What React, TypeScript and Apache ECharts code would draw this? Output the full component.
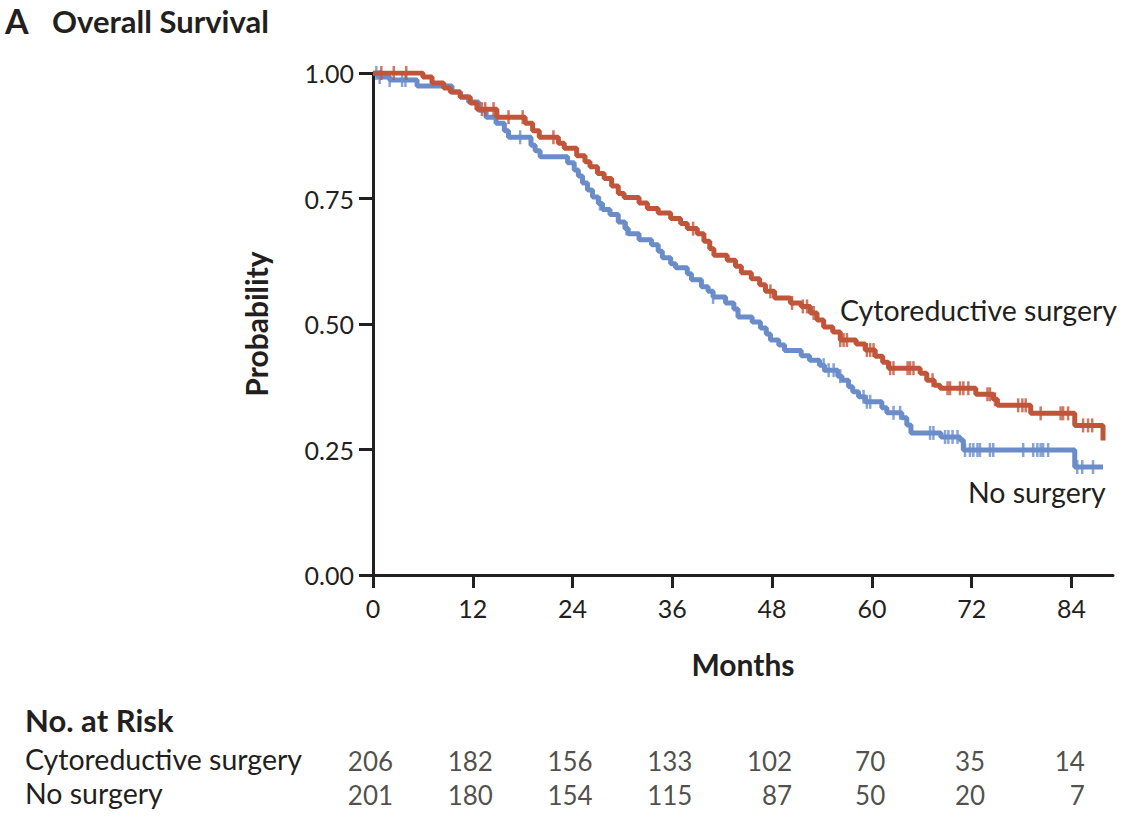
import React, { useEffect, useRef } from "react";
import * as echarts from "echarts";

const monthTicks = [0, 12, 24, 36, 48, 60, 72, 84];
const groupNames = ["Cytoreductive surgery", "No surgery"];
const riskSurgery = [206, 182, 156, 133, 102, 70, 35, 14];
const riskNoSurgery = [201, 180, 154, 115, 87, 50, 20, 7];

// Kaplan-Meier steps: [month, survival after the event]
const surgeryCurve = [
  [0, 1.0], [6.0, 0.992], [7.1, 0.98], [8.5, 0.97], [9.3, 0.962], [10.5, 0.952], [11.7, 0.94],
  [12.5, 0.928], [14.9, 0.912], [18.3, 0.9], [19.2, 0.885], [20, 0.872], [22.3, 0.86], [23, 0.85],
  [24.5, 0.835], [25.5, 0.823], [26.1, 0.813], [27, 0.8], [27.8, 0.79], [28.7, 0.775], [29.5, 0.76],
  [30.2, 0.752], [32, 0.741], [33, 0.73], [34.3, 0.721], [35.8, 0.71], [37, 0.7], [37.8, 0.69],
  [39, 0.68], [39.8, 0.665], [40.5, 0.65], [41, 0.637], [42.6, 0.627], [43.6, 0.615], [44.3, 0.602],
  [45.5, 0.59], [46.5, 0.578], [47.2, 0.565], [48.3, 0.552], [50.2, 0.542], [51.5, 0.535],
  [52.6, 0.522], [53.4, 0.508], [54.2, 0.494], [55.3, 0.484], [56.2, 0.468], [58.1, 0.46],
  [59.2, 0.448], [60.4, 0.436], [61.3, 0.424], [62, 0.412], [65.8, 0.402], [66.6, 0.388],
  [67.5, 0.378], [68.2, 0.372], [72.5, 0.36], [74.6, 0.35], [75.1, 0.338], [79.1, 0.322],
  [84.4, 0.298], [87.8, 0.268],
];
const noSurgeryCurve = [
  [0, 1.0], [0.6, 0.992], [2, 0.986], [5.3, 0.974], [9.5, 0.962], [10.5, 0.952], [11.5, 0.942],
  [12.7, 0.926], [13.6, 0.912], [14.8, 0.9], [15.8, 0.885], [16.3, 0.872], [19.0, 0.856],
  [19.5, 0.845], [20.1, 0.833], [23.4, 0.821], [24.2, 0.807], [24.7, 0.795], [25.2, 0.781],
  [25.8, 0.767], [26.4, 0.753], [27.1, 0.74], [27.6, 0.728], [28.5, 0.718], [29.5, 0.703],
  [30.3, 0.69], [30.7, 0.68], [32, 0.668], [33.5, 0.658], [34.3, 0.645], [34.8, 0.632],
  [35.8, 0.62], [36.4, 0.612], [37.8, 0.6], [38.3, 0.588], [39.5, 0.574], [40.3, 0.565],
  [40.9, 0.554], [42.4, 0.542], [43.4, 0.53], [43.9, 0.514], [45.6, 0.504], [46.6, 0.492],
  [47.3, 0.48], [47.8, 0.468], [48.8, 0.458], [49.5, 0.447], [51.5, 0.437], [52.5, 0.428],
  [53.7, 0.418], [54.3, 0.408], [55.9, 0.396], [56.4, 0.388], [57.2, 0.375], [57.7, 0.365],
  [58.4, 0.355], [59.2, 0.345], [61.2, 0.333], [61.8, 0.323], [63.6, 0.313], [64.2, 0.299],
  [64.7, 0.283], [68.3, 0.275], [70.6, 0.269], [71.0, 0.249], [84.4, 0.215], [87.8, 0.215],
];

// Censoring times (months)
const surgeryCensor = [
  1.0, 2.5, 4.0, 13.1, 13.5, 14.5, 16.3, 18.0, 21.7, 38.5, 47.8, 50.4, 51.7, 52.2, 53.0, 56.2,
  56.6, 57.0, 59.4, 59.8, 60.2, 62.2, 62.6, 64.3, 64.6, 65.0, 67.3, 69.1, 69.4, 70.6, 71.0,
  71.6, 73.9, 74.2, 74.8, 77.6, 78.1, 78.5, 80.3, 82.7, 83.0, 83.6, 85.4, 86.0, 86.5,
];
const noSurgeryCensor = [
  0.4, 0.8, 2.0, 3.5, 3.9, 17.7, 27.3, 30.5, 40.9, 54.2, 54.8, 55.4, 56.2, 59.0, 59.4, 59.8,
  62.6, 63.4, 67.0, 67.4, 68.8, 69.2, 69.7, 70.3, 71.2, 71.8, 72.2, 72.7, 73.0, 74.2, 74.6,
  78.2, 79.4, 79.9, 80.3, 80.6, 81.2, 84.7, 85.3, 86.6,
];

const RED = "#C0553A";
const BLUE = "#6A8DCA";
const INK = "#231F20";
const FONT = "Lato, 'Open Sans', sans-serif";

function survivalAt(curve: number[][], t: number): number {
  let s = curve[0][1];
  for (const [m, v] of curve) {
    if (m <= t) s = v;
    else break;
  }
  return s;
}

export default function App() {
  const ref = useRef<HTMLDivElement>(null);
  useEffect(() => {
    if (!ref.current) return;
    const chart = echarts.init(ref.current, null, { renderer: "svg" });

    const riskData = (vals: number[], row: number) =>
      vals.map((v, i) => {
        const maxDigits = Math.max(String(riskSurgery[i]).length, String(riskNoSurgery[i]).length);
        return {
          value: [monthTicks[i], row],
          label: { offset: [maxDigits * 6.7, 0] },
          name: String(v),
        };
      });

    chart.setOption({
      animation: false,
      backgroundColor: "#ffffff",
      textStyle: { fontFamily: FONT },
      grid: [
        { left: 373, top: 73, width: 740, height: 502 },
        { left: 373, top: 761, width: 740, height: 34 },
      ],
      xAxis: [
        {
          type: "value",
          gridIndex: 0,
          min: 0,
          max: 89,
          name: "Months",
          nameLocation: "middle",
          nameGap: 74,
          nameTextStyle: { fontSize: 30, fontWeight: "bold", color: INK, fontFamily: FONT },
          axisLine: { show: true, lineStyle: { color: INK, width: 3 } },
          axisTick: { show: true, length: 13, lineStyle: { color: INK, width: 3 }, customValues: monthTicks },
          axisLabel: { fontSize: 25, color: INK, margin: 20, fontFamily: FONT, customValues: monthTicks },
          splitLine: { show: false },
        },
        { type: "value", gridIndex: 1, min: 0, max: 89, show: false },
      ],
      yAxis: [
        {
          type: "value",
          gridIndex: 0,
          min: 0,
          max: 1,
          interval: 0.25,
          name: "Probability",
          nameLocation: "middle",
          nameGap: 102,
          nameRotate: 90,
          nameTextStyle: { fontSize: 30, fontWeight: "bold", color: INK, fontFamily: FONT },
          axisLine: { show: true, lineStyle: { color: INK, width: 3 } },
          axisTick: { show: true, length: 14, lineStyle: { color: INK, width: 3 } },
          axisLabel: {
            fontSize: 25,
            color: INK,
            margin: 19,
            fontFamily: FONT,
            formatter: (v: number) => v.toFixed(2),
          },
          splitLine: { show: false },
        },
        { type: "value", gridIndex: 1, min: 0, max: 1, show: false },
      ],
      series: [
        {
          type: "line",
          name: groupNames[1],
          xAxisIndex: 0,
          yAxisIndex: 0,
          step: "end",
          data: noSurgeryCurve,
          showSymbol: false,
          lineStyle: { color: BLUE, width: 5 },
          z: 2,
        },
        {
          type: "line",
          name: groupNames[0],
          xAxisIndex: 0,
          yAxisIndex: 0,
          step: "end",
          data: surgeryCurve,
          showSymbol: false,
          lineStyle: { color: RED, width: 5 },
          z: 3,
        },
        {
          type: "scatter",
          xAxisIndex: 0,
          yAxisIndex: 0,
          symbol: "rect",
          symbolSize: [2.5, 14],
          itemStyle: { color: BLUE },
          data: noSurgeryCensor.map((t) => [t, survivalAt(noSurgeryCurve, t)]),
          z: 2,
        },
        {
          type: "scatter",
          xAxisIndex: 0,
          yAxisIndex: 0,
          symbol: "rect",
          symbolSize: [2.5, 14],
          itemStyle: { color: RED },
          data: surgeryCensor.map((t) => [t, survivalAt(surgeryCurve, t)]),
          z: 3,
        },
        {
          type: "scatter",
          xAxisIndex: 1,
          yAxisIndex: 1,
          symbolSize: 0,
          silent: true,
          label: {
            show: true,
            position: "left",
            distance: 0,
            formatter: (p: any) => p.name,
            fontSize: 26,
            color: INK,
            fontFamily: FONT,
          },
          data: [...riskData(riskSurgery, 1), ...riskData(riskNoSurgery, 0)],
        },
      ],
      graphic: [
        {
          type: "text",
          left: 5,
          top: 3,
          style: { text: "A", fontSize: 34, fontWeight: "bold", fill: INK, fontFamily: FONT },
        },
        {
          type: "text",
          left: 52,
          top: 5,
          style: { text: "Overall Survival", fontSize: 31, fontWeight: "bold", fill: INK, fontFamily: FONT },
        },
        {
          type: "text",
          left: 840,
          top: 295,
          style: { text: groupNames[0], fontSize: 28.5, fill: INK, fontFamily: FONT },
        },
        {
          type: "text",
          left: 968,
          top: 477,
          style: { text: groupNames[1], fontSize: 28.5, fill: INK, fontFamily: FONT },
        },
        {
          type: "text",
          left: 25,
          top: 704,
          style: { text: "No. at Risk", fontSize: 31, fontWeight: "bold", fill: INK, fontFamily: FONT },
        },
        {
          type: "text",
          left: 25,
          top: 744,
          style: { text: groupNames[0], fontSize: 28.5, fill: INK, fontFamily: FONT },
        },
        {
          type: "text",
          left: 25,
          top: 778,
          style: { text: groupNames[1], fontSize: 28.5, fill: INK, fontFamily: FONT },
        },
      ],
    });
    return () => chart.dispose();
  }, []);

  return (
    <div
      ref={ref}
      style={{ position: "absolute", left: 0, top: 0, width: 1142, height: 824, background: "#fff" }}
    />
  );
}
